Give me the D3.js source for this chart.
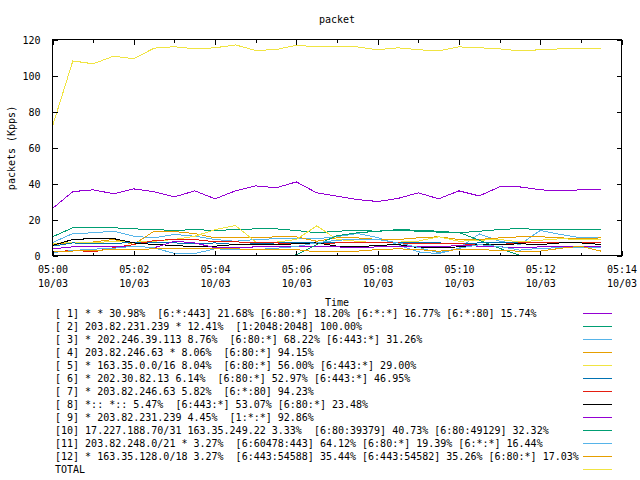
<!DOCTYPE html>
<html><head><meta charset="utf-8">
<script src="https://cdn.jsdelivr.net/npm/d3@7"></script>
<style>
html,body{margin:0;padding:0;background:#fff;}
svg{display:block;}
text{font-family:"DejaVu Sans Mono","Liberation Mono",monospace;font-size:10px;fill:#000;}
</style></head>
<body>
<script>
// ---- DATA ----
const times = ["10/03 05:00:00","10/03 05:00:30","10/03 05:01:00","10/03 05:01:30","10/03 05:02:00","10/03 05:02:30","10/03 05:03:00","10/03 05:03:30","10/03 05:04:00","10/03 05:04:30","10/03 05:05:00","10/03 05:05:30","10/03 05:06:00","10/03 05:06:30","10/03 05:07:00","10/03 05:07:30","10/03 05:08:00","10/03 05:08:30","10/03 05:09:00","10/03 05:09:30","10/03 05:10:00","10/03 05:10:30","10/03 05:11:00","10/03 05:11:30","10/03 05:12:00","10/03 05:12:30","10/03 05:13:00","10/03 05:13:30"];
const s1  = [26.1,35.5,36.5,34.3,37.0,35.4,32.6,35.9,31.5,35.9,38.7,37.6,40.9,34.8,33.0,31.1,30.0,31.7,34.8,31.5,35.9,33.1,38.1,38.1,36.5,35.9,36.5,36.5];
const s2  = [10.4,15.4,15.4,15.4,14.8,14.4,13.9,14.4,13.9,14.4,14.8,14.8,13.9,12.6,13.5,13.9,13.5,14.4,14.0,13.5,12.6,13.5,14.4,15.0,14.4,14.4,14.4,14.4];
const s3  = [7.2,12.2,12.6,13.5,10.7,9.8,11.7,10.7,8.9,7.9,8.9,9.3,9.3,9.3,10.5,12.2,10.0,6.0,2.0,1.0,4.0,12.0,8.0,6.1,13.9,11.7,9.8,9.8];
const s4  = [6.1,7.0,7.5,8.9,6.1,13.5,13.3,12.2,9.8,9.8,9.8,10.4,10.4,7.9,9.8,9.8,8.9,8.9,9.8,10.4,8.9,8.9,9.8,10.4,10.4,9.8,9.3,9.8];
const s5  = [6.7,7.4,7.0,7.9,7.4,7.9,8.9,10.7,14.4,16.7,7.5,7.4,8.9,16.5,8.9,7.9,7.0,7.4,8.0,10.4,7.9,8.5,8.9,7.5,8.5,9.3,8.9,8.9];
const s6  = [5.2,7.0,6.5,6.5,7.5,7.0,7.0,6.5,7.0,6.1,6.5,7.0,7.4,7.0,7.4,7.0,7.4,7.0,7.4,7.0,6.5,7.0,7.4,7.4,7.0,7.4,7.4,7.0];
const s7  = [1.6,3.0,2.0,4.3,6.1,8.3,8.9,8.9,7.6,7.6,7.0,7.0,6.5,6.5,7.0,7.0,7.0,7.0,6.5,6.5,6.5,6.1,6.1,7.0,7.0,7.4,7.0,7.0];
const s8  = [5.6,8.9,9.4,9.4,7.0,6.1,5.6,4.8,5.2,6.1,6.1,6.1,6.5,7.0,5.2,4.8,5.6,6.1,4.3,4.3,4.8,6.1,6.1,6.5,6.1,7.0,7.0,6.1];
const s9  = [3.7,4.8,4.8,4.8,5.2,4.3,7.9,7.0,4.3,4.3,4.8,4.8,4.8,4.8,4.8,4.3,4.8,5.2,5.2,4.8,5.6,5.2,4.8,4.3,4.8,5.2,4.8,4.8];
const s10 = [0,0,0,0,0,0,0,0,0,0,0,0,0.3,6.0,11.0,12.6,13.5,14.0,13.5,13.0,12.8,8.5,4.0,0,0,0,0,0];
const s11 = [1.6,2.8,3.5,4.0,5.2,4.3,1.1,1.1,3.7,3.3,3.3,4.0,5.0,7.0,8.5,8.9,8.9,7.0,4.5,1.5,4.0,6.0,5.0,3.0,4.0,4.3,4.5,4.5];
const s12 = [1.9,2.5,2.8,3.3,3.3,3.7,4.0,4.0,3.7,3.7,3.3,3.3,3.3,2.0,2.0,2.4,3.3,3.7,3.3,2.4,3.3,3.3,2.8,2.4,2.4,4.0,5.2,2.4];
const total = [71.8,108.1,106.5,110.7,109.3,115.2,116.0,114.8,115.4,117.0,113.9,114.4,116.8,115.9,115.9,115.9,114.3,115.4,114.3,113.7,115.9,115.4,114.8,113.7,114.3,114.8,114.8,114.8];

const legendLabels = [
"[ 1] * * 30.98%  [6:*:443] 21.68% [6:80:*] 18.20% [6:*:*] 16.77% [6:*:80] 15.74%",
"[ 2] 203.82.231.239 * 12.41%  [1:2048:2048] 100.00%",
"[ 3] * 202.246.39.113 8.76%  [6:80:*] 68.22% [6:443:*] 31.26%",
"[ 4] 203.82.246.63 * 8.06%  [6:80:*] 94.15%",
"[ 5] * 163.35.0.0/16 8.04%  [6:80:*] 56.00% [6:443:*] 29.00%",
"[ 6] * 202.30.82.13 6.14%  [6:80:*] 52.97% [6:443:*] 46.95%",
"[ 7] * 203.82.246.63 5.82%  [6:*:80] 94.23%",
"[ 8] *:: *:: 5.47%  [6:443:*] 53.07% [6:80:*] 23.48%",
"[ 9] * 203.82.231.239 4.45%  [1:*:*] 92.86%",
"[10] 17.227.188.70/31 163.35.249.22 3.33%  [6:80:39379] 40.73% [6:80:49129] 32.32%",
"[11] 203.82.248.0/21 * 3.27%  [6:60478:443] 64.12% [6:80:*] 19.39% [6:*:*] 16.44%",
"[12] * 163.35.128.0/18 3.27%  [6:443:54588] 35.44% [6:443:54582] 35.26% [6:80:*] 17.03%",
"TOTAL"
];
const colors = ["#9400d3","#009e73","#56b4e9","#e69f00","#f0e442","#0072b2","#e51e10","#000000","#9400d3","#009e73","#56b4e9","#e69f00","#f0e442"];
const yTicks = [0,20,40,60,80,100,120];
const xDomain = ["10/03 05:00:00","10/03 05:14:00"];
const titleText = "packet";
const yLabel = "packets (Kpps)";
const xLabel = "Time";

// ---- CHART ----
const W = 640, H = 480;
const L = 52.5, R = 621.5, T = 39.5, B = 255.5;
const parse = d3.utcParse("%m/%d %H:%M:%S");
const series = [s1,s2,s3,s4,s5,s6,s7,s8,s9,s10,s11,s12,total];
const tDates = times.map(parse);

const svg = d3.select("body").append("svg").attr("width",W).attr("height",H);
const x = d3.scaleUtc().domain(xDomain.map(parse)).range([L,R]);
const y = d3.scaleLinear().domain([0,120]).range([B,T]);

// data lines
const line = d3.line().x((d,i)=>x(tDates[i])).y(d=>y(d));
const g = svg.append("g");
series.forEach((s,k)=>{
  g.append("path").datum(s).attr("d",line).attr("fill","none")
   .attr("stroke",colors[k]).attr("stroke-width",1).attr("shape-rendering","crispEdges");
});

// axes (ticks inward, mirrored)
const fmtH = d3.utcFormat("%H:%M"), fmtD = d3.utcFormat("%m/%d");
const majorX = d3.utcMinute.every(2), minorX = d3.utcMinute.every(1);
function tickStyle(sel){ sel.select(".domain").remove(); sel.selectAll("line").attr("stroke","#000").attr("shape-rendering","crispEdges"); }

svg.append("g").attr("transform",`translate(0,${B})`)
  .call(d3.axisBottom(x).ticks(minorX).tickSize(-3).tickFormat(""))
  .call(tickStyle).selectAll("text").remove();
svg.append("g").attr("transform",`translate(0,${T})`)
  .call(d3.axisTop(x).ticks(minorX).tickSize(-3).tickFormat(""))
  .call(tickStyle).selectAll("text").remove();
svg.append("g").attr("transform",`translate(0,${T})`)
  .call(d3.axisTop(x).ticks(majorX).tickSize(-5).tickFormat(""))
  .call(tickStyle).selectAll("text").remove();

const xb = svg.append("g").attr("transform",`translate(0,${B})`)
  .call(d3.axisBottom(x).ticks(majorX).tickSize(-5).tickFormat(""));
xb.call(tickStyle);
xb.selectAll(".tick text").remove();
xb.selectAll(".tick").each(function(d){
  const t = d3.select(this).append("text").attr("text-anchor","middle").attr("fill","#000")
    .style("font-family",'"DejaVu Sans Mono",monospace').style("font-size","10px");
  t.append("tspan").attr("x",0).attr("y",17.5).text(fmtH(d));
  t.append("tspan").attr("x",0).attr("y",31.5).text(fmtD(d));
});

const yl = svg.append("g").attr("transform",`translate(${L},0)`)
  .call(d3.axisLeft(y).tickValues(yTicks).tickSize(-5).tickPadding(12).tickFormat(d3.format("d")));
yl.call(tickStyle);
yl.selectAll("text").attr("fill","#000").attr("dy","0.35em")
  .style("font-family",'"DejaVu Sans Mono",monospace').style("font-size","10px");
const yr = svg.append("g").attr("transform",`translate(${R},0)`)
  .call(d3.axisRight(y).tickValues(yTicks).tickSize(-5).tickFormat(""));
yr.call(tickStyle);

// border
svg.append("rect").attr("x",L).attr("y",T).attr("width",R-L).attr("height",B-T)
  .attr("fill","none").attr("stroke","#000").attr("shape-rendering","crispEdges");

// titles
svg.append("text").attr("x",(L+R)/2).attr("y",23).attr("text-anchor","middle").text(titleText);
svg.append("text").attr("transform",`translate(15,148) rotate(-90)`).attr("text-anchor","middle").text(yLabel);
svg.append("text").attr("x",(L+R)/2).attr("y",306).attr("text-anchor","middle").text(xLabel);

// legend
const lg = svg.append("g");
legendLabels.forEach((lab,i)=>{
  lg.append("text").attr("x",55).attr("y",317+13*i).style("white-space","pre").text(lab);
  lg.append("line").attr("x1",583).attr("x2",612).attr("y1",313.5+13*i).attr("y2",313.5+13*i)
    .attr("stroke",colors[i]).attr("stroke-width",1).attr("shape-rendering","crispEdges");
});
</script>
</body></html>
